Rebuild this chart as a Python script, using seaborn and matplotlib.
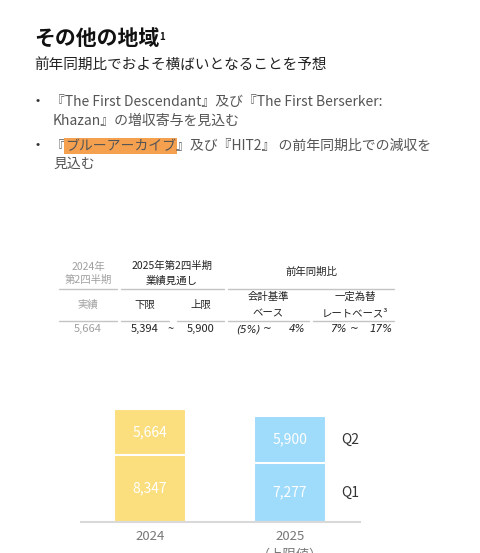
import pandas as pd
import matplotlib.pyplot as plt
import seaborn as sns

years = ["2024", "2025"]
year_labels = ["2024", "2025\n（上限値）"]
q1_values = [8347, 7277]
q2_values = [5664, 5900]
bar_colors = {"2024": "#FBDE7E", "2025": "#9FDBFA"}

title = "その他の地域"
subtitle = "前年同期比でおよそ横ばいとなることを予想"

sns.set_theme(style="white")
plt.rcParams["font.family"] = ["Noto Sans CJK JP", "DejaVu Sans"]

W, H = 480, 553
fig = plt.figure(figsize=(W / 100, H / 100), dpi=100)
overlay = fig.add_axes([0, 0, 1, 1])
overlay.set_xlim(0, W)
overlay.set_ylim(H, 0)
overlay.axis("off")


def txt(x, y, s, **kw):
    return overlay.text(x, y, s, **kw)


def chain(pieces, x, y, size=10, color="#555555"):
    # pieces: list of (text, highlight)
    prev = None
    for s, hl in pieces:
        kw = dict(fontsize=size, color=color, ha="left", va="bottom")
        if hl:
            kw["bbox"] = dict(boxstyle="square,pad=0.08", fc="#F5A04F", ec="none")
        if prev is None:
            prev = overlay.text(x, y, s, **kw)
        else:
            prev = overlay.annotate(s, xy=(1, 0), xycoords=prev, **kw)
    return prev


# header
t = txt(34, 38, title, fontsize=15, fontweight="bold", color="#111111", va="center")
overlay.annotate("1", xy=(1, 1), xycoords=t, xytext=(0, -3), textcoords="offset points",
                 fontsize=7, fontweight="bold", color="#111111", ha="left", va="top")
txt(34, 65, subtitle, fontsize=10.5, color="#222222", va="center")

# bullets
for by in (100, 144):
    txt(36, by, "•", fontsize=9, color="#333333", va="center")
chain([("『The First Descendant』及び『The First Berserker:", False)], 51, 109)
chain([("Khazan』の増収寄与を見込む", False)], 53, 128)
chain([("『", False), ("ブルーアーカイブ", True),
       ("』及び『HIT2』 の前年同期比での減収を", False)], 51, 153)
chain([("見込む", False)], 53, 171)

# table
grey = "#a0a0a0"
dark = "#222222"
ts = 7.5
txt(88, 267, "2024年", fontsize=ts, color=grey, ha="center", va="center")
txt(88, 280, "第2四半期", fontsize=ts, color=grey, ha="center", va="center")
txt(172, 266, "2025年第2四半期", fontsize=ts, color=dark, ha="center", va="center")
txt(172, 281, "業績見通し", fontsize=ts, color=dark, ha="center", va="center")
txt(311, 272, "前年同期比", fontsize=ts, color=dark, ha="center", va="center")

line_color = "#c4c4c4"
for x0, x1 in [(59, 117), (121, 224), (228, 394)]:
    overlay.plot([x0, x1], [289, 289], color=line_color, lw=1)
for x0, x1 in [(59, 117), (121, 169), (177, 224), (228, 309), (313, 394)]:
    overlay.plot([x0, x1], [321, 321], color=line_color, lw=1)

txt(88, 305, "実績", fontsize=ts, color=grey, ha="center", va="center")
txt(145, 305, "下限", fontsize=ts, color=dark, ha="center", va="center")
txt(201, 305, "上限", fontsize=ts, color=dark, ha="center", va="center")
txt(268, 297, "会計基準", fontsize=ts, color=dark, ha="center", va="center")
txt(268, 313, "ベース", fontsize=ts, color=dark, ha="center", va="center")
txt(355, 297, "一定為替", fontsize=ts, color=dark, ha="center", va="center")
txt(355, 313, "レートベース³", fontsize=ts, color=dark, ha="center", va="center")

rs = 8
txt(88, 329, "5,664", fontsize=rs, color=grey, ha="center", va="center")
txt(145, 329, "5,394", fontsize=rs, color=dark, ha="center", va="center")
txt(171, 329, "~", fontsize=rs, color=dark, ha="center", va="center")
txt(201, 329, "5,900", fontsize=rs, color=dark, ha="center", va="center")
for x, s in [(248, "(5%)"), (267, "~"), (297, "4%"),
             (338, "7%"), (354, "~"), (381, "17%")]:
    txt(x, 329, s, fontsize=7.5, color=dark, ha="center", va="center",
        style="italic", family="DejaVu Sans")

# bar chart
df = pd.DataFrame({"year": years, "Q1": q1_values, "Q2": q2_values})
df["total"] = df["Q1"] + df["Q2"]

ax = fig.add_axes([81 / W, 1 - 522 / H, 279 / W, 127 / H])
sns.barplot(data=df, x="year", y="total", hue="year", palette=bar_colors,
            saturation=1, width=0.52, edgecolor="white", linewidth=1.5,
            legend=False, ax=ax)
sns.barplot(data=df, x="year", y="Q1", hue="year", palette=bar_colors,
            saturation=1, width=0.52, edgecolor="white", linewidth=1.5,
            legend=False, ax=ax)

for i, row in df.iterrows():
    ax.text(i, row["Q1"] / 2, f"{row['Q1']:,}", color="white", fontsize=10,
            ha="center", va="center")
    ax.text(i, row["Q1"] + row["Q2"] / 2, f"{row['Q2']:,}", color="white",
            fontsize=10, ha="center", va="center")

last = df.iloc[-1]
ax.text(1.43, last["Q1"] + last["Q2"] / 2, "Q2", color="#333333", fontsize=10,
        ha="center", va="center")
ax.text(1.43, last["Q1"] / 2, "Q1", color="#333333", fontsize=10,
        ha="center", va="center")

ax.set_xlim(-0.493, 1.5)
ax.set_ylim(0, 15747)
ax.set_xlabel("")
ax.set_ylabel("")
ax.set_yticks([])
ax.set_xticks(range(len(years)))
ax.set_xticklabels(year_labels, color="#777777", fontsize=9.5, linespacing=1.5)
ax.tick_params(axis="x", length=0, pad=6)
for side in ("top", "left", "right"):
    ax.spines[side].set_visible(False)
ax.spines["bottom"].set_color("#d9d9d9")
ax.spines["bottom"].set_linewidth(1.5)
ax.patch.set_alpha(0)

fig.savefig("out.png", dpi=100)
plt.close(fig)
